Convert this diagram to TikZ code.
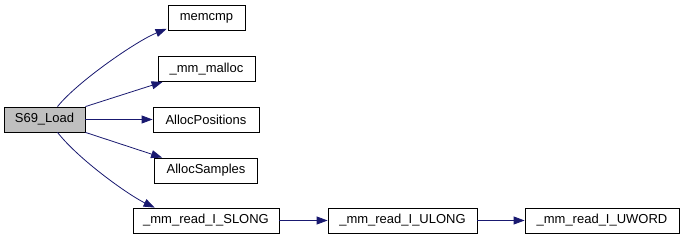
\documentclass[tikz,border=0pt]{standalone}
\usepackage{fontspec}
\setmainfont{Liberation Sans}
\usetikzlibrary{arrows.meta,calc}
\definecolor{edgeblue}{HTML}{191970}
\definecolor{rootgray}{HTML}{BFBFBF}
\tikzset{
  fn/.style={draw=black, line width=0.8pt, fill=white, minimum height=25pt,
    inner sep=0pt, font=\fontsize{13pt}{15pt}\selectfont, anchor=center},
  call/.style={draw=edgeblue, line width=0.8pt,
    -{Triangle[length=11pt,width=8pt]}},
}
\begin{document}
\begin{tikzpicture}[x=1pt,y=-1pt]
  \useasboundingbox (0,0) rectangle (685,240);
  % callee boxes
  \node[fn, fill=rootgray, minimum width=81pt] (root) at (44.5,119.5) {S69\_Load};
  \node[fn, minimum width=77pt]  (memcmp) at (206.5,18) {memcmp};
  \node[fn, minimum width=97pt]  (malloc) at (206.5,69) {\_mm\_malloc};
  \node[fn, minimum width=106pt] (apos)   at (206,119.5) {AllocPositions};
  \node[fn, minimum width=103pt] (asmp)   at (206,170.5) {AllocSamples};
  \node[fn, minimum width=146pt] (slong)  at (206,220.5) {\_mm\_read\_I\_SLONG};
  \node[fn, minimum width=149pt] (ulong)  at (402.5,220.5) {\_mm\_read\_I\_ULONG};
  \node[fn, minimum width=154pt] (uword)  at (602,220.5) {\_mm\_read\_I\_UWORD};
  % call edges
  \draw[call] ($(root.north)+(13,0)$) .. controls +(20,-25) and +(-30,12) .. ($(memcmp.south west)+(-1,-2)$);
  \draw[call] (root.north east) -- ($(malloc.south west)+(5,0)$);
  \draw[call] (root.east) -- (apos.west);
  \draw[call] (root.south east) -- ($(asmp.north west)+(8,0)$);
  \draw[call] ($(root.south)+(13,0)$) .. controls +(22,28) and +(-25,-12) .. ($(slong.north west)+(22,0)$);
  \draw[call] (slong.east) -- (ulong.west);
  \draw[call] (ulong.east) -- (uword.west);
\end{tikzpicture}
\end{document}
